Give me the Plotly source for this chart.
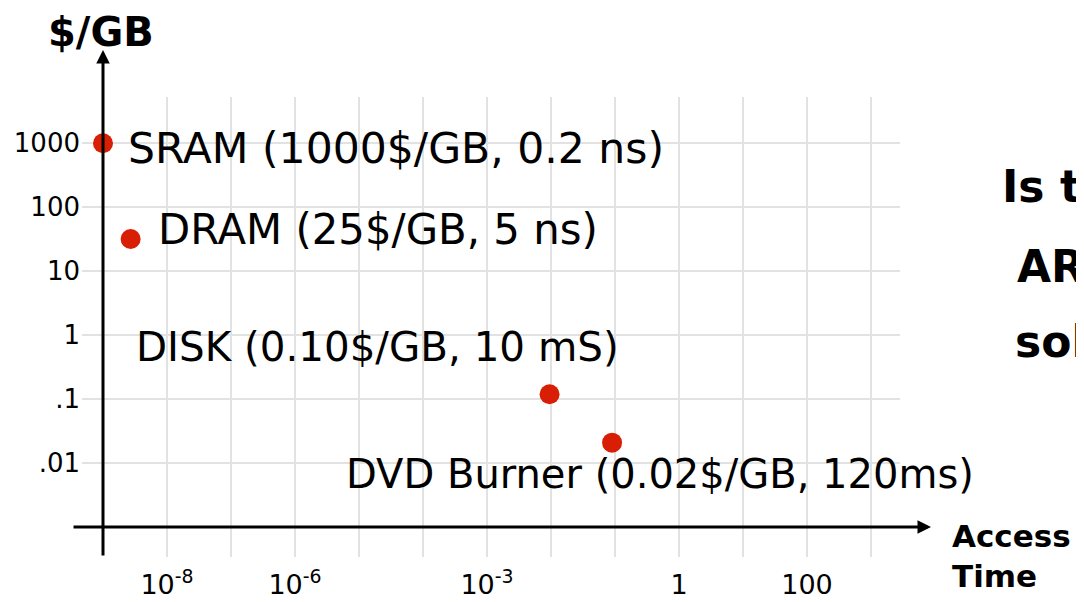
import plotly.graph_objects as go

# ---- data ----
devices = ["SRAM", "DRAM", "DISK", "DVD Burner"]
access_time_s = [1e-9, 2.7e-9, 0.0095, 0.09]
cost_per_gb = [1000, 32, 0.12, 0.021]
point_labels = [
    "SRAM (1000$/GB, 0.2 ns)",
    "DRAM (25$/GB, 5 ns)",
    "DISK (0.10$/GB, 10 mS)",
    "DVD Burner (0.02$/GB, 120ms)",
]

x_tick_vals = [1e-8, 1e-7, 1e-6, 1e-5, 1e-4, 1e-3, 1e-2, 1e-1, 1, 10, 100, 1000]
x_tick_text = ["10<sup>-8</sup>", "", "10<sup>-6</sup>", "", "", "10<sup>-3</sup>",
               "", "", "1", "", "100", ""]
y_tick_vals = [1000, 100, 10, 1, 0.1, 0.01]
y_tick_text = ["1000", "100", "10", "1", ".1", ".01"]

y_title = "$/GB"
x_title = "Access<br>Time"
side_text = ["Is t", "AR", "sol"]

# ---- layout geometry (page pixels; the page body has an 8px margin) ----
OFF = 8
W, H = 1084 - OFF, 602 - OFF
L, R, T, B = 82, 900, 97, 557          # plot area in page pixels
FONT = "DejaVu Sans"
RED = "#d81e05"


def px(p):
    return (p - L) / (R - L)


def py(p):
    return (B - p) / (B - T)


fig = go.Figure()
fig.add_trace(go.Scatter(
    x=access_time_s, y=cost_per_gb, mode="markers", text=devices,
    marker=dict(size=20, color=RED), cliponaxis=False, showlegend=False,
    hoverinfo="text",
))

annotations = []
# point labels (left x, vertical centre, font size) in page pixels
label_pos = [(126, 148, 42.5), (156, 229, 41.8), (134, 347, 40.4), (344, 474, 40)]
for txt, (lx, ly, fs) in zip(point_labels, label_pos):
    annotations.append(dict(
        text=txt, xref="paper", yref="paper", x=px(lx), y=py(ly),
        xanchor="left", yanchor="middle", showarrow=False,
        font=dict(family=FONT, size=fs, color="black"),
    ))

# axis arrows
annotations.append(dict(
    text="", xref="paper", yref="paper", x=px(103), y=py(50), ax=0, ay=507,
    showarrow=True, arrowhead=2, arrowwidth=3, arrowsize=0.9, arrowcolor="black",
))
annotations.append(dict(
    text="", xref="paper", yref="paper", x=px(931), y=py(527), ax=-859, ay=0,
    showarrow=True, arrowhead=2, arrowwidth=3, arrowsize=0.9, arrowcolor="black",
))

# axis titles
annotations.append(dict(
    text=f"<b>{y_title}</b>", xref="paper", yref="paper", x=px(101), y=py(32),
    xanchor="center", yanchor="middle", showarrow=False,
    font=dict(family=FONT, size=40, color="black"),
))
annotations.append(dict(
    text=f"<b>{x_title}</b>", xref="paper", yref="paper", x=px(950), y=py(556),
    xanchor="left", yanchor="middle", showarrow=False, align="left",
    font=dict(family=FONT, size=31, color="black"),
))

# side text (cut off at the right edge, as in the reference)
for txt, (lx, ly) in zip(side_text, [(1000, 186), (1015, 266), (1013, 341)]):
    annotations.append(dict(
        text=f"<b>{txt}</b>", xref="paper", yref="paper", x=px(lx), y=py(ly),
        xanchor="left", yanchor="middle", showarrow=False,
        font=dict(family=FONT, size=44, color="black"),
    ))

grid = dict(showgrid=True, gridcolor="#e2e2e2", gridwidth=2, zeroline=False,
            showline=False, ticks="", automargin=False)

fig.update_layout(
    template="none",
    width=W, height=H, autosize=False,
    margin=dict(l=L - OFF, r=(W + OFF) - R, t=T - OFF, b=(H + OFF) - B,
                pad=0, autoexpand=False),
    paper_bgcolor="white", plot_bgcolor="white",
    xaxis=dict(type="log", range=[-9 + (L - 103) / 64, -9 + (R - 103) / 64],
               tickmode="array", tickvals=x_tick_vals, ticktext=x_tick_text,
               ticklabelstandoff=9,
               tickfont=dict(family=FONT, size=27, color="black"), **grid),
    yaxis=dict(type="log", range=[3 - (B - 143.3) / 64, 3 + (143.3 - T) / 64],
               tickmode="array", tickvals=y_tick_vals, ticktext=y_tick_text,
               ticklabelstandoff=1,
               tickfont=dict(family=FONT, size=26, color="black"), **grid),
    annotations=annotations,
    hovermode="closest",
)

fig.write_html("out.html")
